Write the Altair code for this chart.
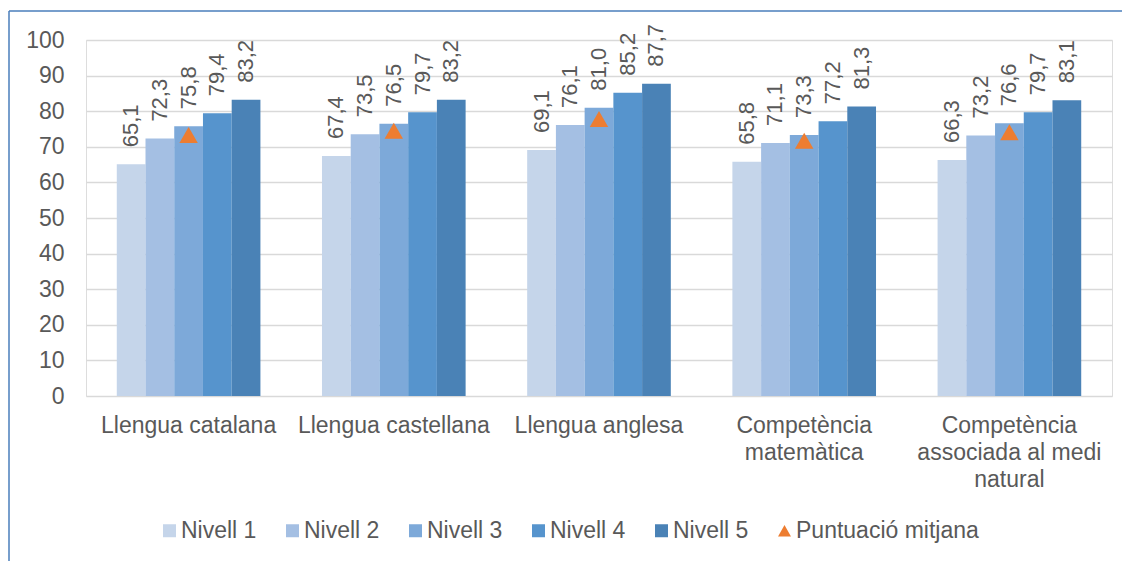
import altair as alt
import pandas as pd

categories = [
    "Llengua catalana",
    "Llengua castellana",
    "Llengua anglesa",
    "Competència matemàtica",
    "Competència associada al medi natural",
]
levels = ["Nivell 1", "Nivell 2", "Nivell 3", "Nivell 4", "Nivell 5"]
nivell_1 = [65.1, 67.4, 69.1, 65.8, 66.3]
nivell_2 = [72.3, 73.5, 76.1, 71.1, 73.2]
nivell_3 = [75.8, 76.5, 81.0, 73.3, 76.6]
nivell_4 = [79.4, 79.7, 85.2, 77.2, 79.7]
nivell_5 = [83.2, 83.2, 87.7, 81.3, 83.1]
mitjana = [73.3, 74.5, 77.8, 71.7, 74.1]
mean_name = "Puntuació mitjana"

colors = ["#C5D5EA", "#A4BFE3", "#7DA9D9", "#5694CD", "#4A82B6", "#ED7D31"]
series_domain = levels + [mean_name]

rows = []
for lvl, vals in zip(levels, [nivell_1, nivell_2, nivell_3, nivell_4, nivell_5]):
    for c, v in zip(categories, vals):
        rows.append({"cat": c, "series": lvl, "value": v,
                     "label": f"{v:.1f}".replace(".", ",")})
bars_df = pd.DataFrame(rows)
mean_df = pd.DataFrame({"cat": categories, "series": [mean_name] * 5,
                        "value": mitjana, "off": ["Nivell 3"] * 5})

label_expr = (
    "datum.label == 'Competència matemàtica' ? ['Competència', 'matemàtica'] : "
    "datum.label == 'Competència associada al medi natural' ? "
    "['Competència', 'associada al medi', 'natural'] : datum.label"
)

x_enc = alt.X("cat:N", sort=categories, title=None,
              scale=alt.Scale(paddingInner=0.3, paddingOuter=0.15),
              axis=alt.Axis(labelExpr=label_expr, labelAngle=0, ticks=False,
                            domain=False, labelPadding=18, labelLineHeight=27,
                            labelFontSize=23, labelColor="#595959", grid=False,
                            labelLimit=0))
y_enc = alt.Y("value:Q", title=None,
              scale=alt.Scale(domain=[0, 100], nice=False),
              axis=alt.Axis(values=list(range(0, 101, 10)), ticks=False,
                            domain=False, labelPadding=22, labelFontSize=23,
                            labelColor="#595959", gridColor="#D9D9D9",
                            gridWidth=1.5))
xoff = alt.XOffset("series:N", sort=levels,
                   scale=alt.Scale(domain=levels, paddingInner=0, paddingOuter=0))

color_enc = alt.Color("series:N", scale=alt.Scale(domain=series_domain, range=colors),
                      sort=series_domain,
                      legend=alt.Legend(title=None, orient="none", legendX=72, legendY=479,
                                        direction="horizontal", columns=6,
                                        labelFontSize=23, labelColor="#595959",
                                        symbolSize=169, columnPadding=24,
                                        labelOffset=0, symbolStrokeWidth=0,
                                        labelLimit=0))
shape_enc = alt.Shape("series:N",
                      scale=alt.Scale(domain=series_domain,
                                      range=["square"] * 5 + ["triangle-up"]),
                      sort=series_domain, legend=alt.Legend(title=None))

bars = alt.Chart(bars_df).mark_bar().encode(
    x=x_enc, y=y_enc, xOffset=xoff, color=color_enc
)
texts = alt.Chart(bars_df).mark_text(
    angle=270, align="left", baseline="middle", dx=17, fontSize=22,
    color="#595959", font="Liberation Sans"
).encode(x=x_enc, y=y_enc, xOffset=xoff, text="label:N")
points = alt.Chart(mean_df).mark_point(filled=True, size=340, opacity=1).encode(
    x=x_enc, y=y_enc,
    xOffset=alt.XOffset("off:N", scale=alt.Scale(domain=levels, paddingInner=0, paddingOuter=0)),
    color=color_enc, shape=shape_enc
)
border_df = pd.DataFrame({"k": [0]})
border_left = alt.Chart(border_df).mark_rule(color="#4A7EBB", strokeWidth=1.5).encode(
    x=alt.value(-77), y=alt.value(-29), y2=alt.value(560)
)
border_top = alt.Chart(border_df).mark_rule(color="#4A7EBB", strokeWidth=1.5).encode(
    x=alt.value(-77), x2=alt.value(1050), y=alt.value(-29)
)

chart = alt.layer(bars, texts, points, border_left, border_top).properties(
    width=1026, height=356,
    autosize=alt.AutoSizeParams(type="none"),
    padding={"left": 78, "top": 32, "right": 10, "bottom": 166},
).configure_view(stroke=None).configure(
    font="Liberation Sans", background="white"
)

chart.save("out.html", embed_options={"renderer": "svg", "actions": False})
